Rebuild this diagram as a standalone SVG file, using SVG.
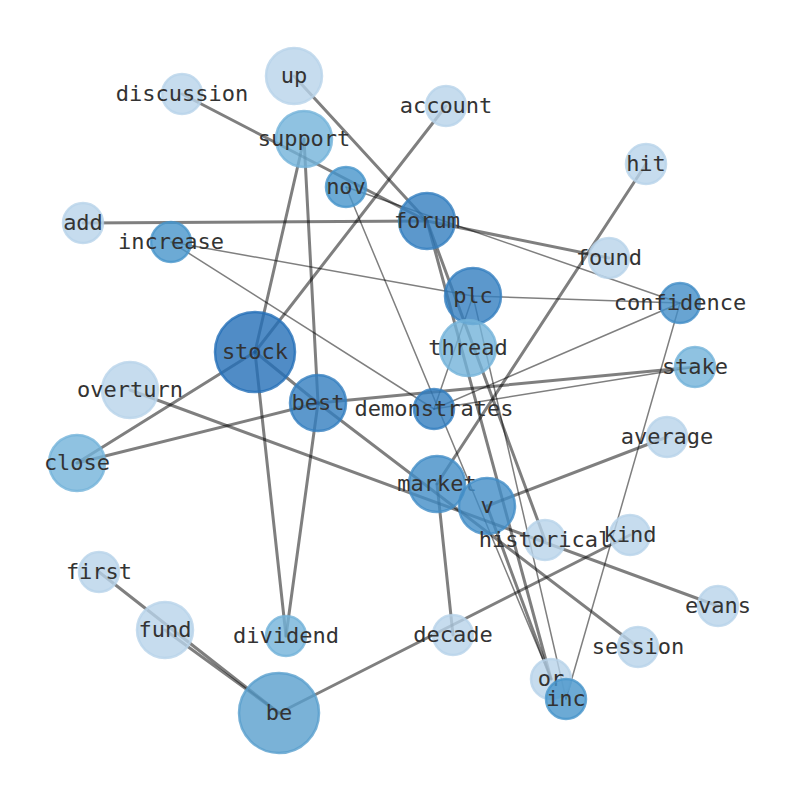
<svg xmlns="http://www.w3.org/2000/svg" width="794" height="790" viewBox="0 0 794 790">
<style>
.e{stroke:#000;stroke-opacity:0.5;fill:none;stroke-linecap:round}
.w{stroke-width:3}
.t{stroke-width:1.5}
.n circle{fill-opacity:0.8;stroke-opacity:0.8;stroke-width:2.5}
.l1 circle{fill:#b8d3ea;stroke:#b8d3ea}
.l2 circle{fill:#73b3d9;stroke:#73b3d9}
.l3 circle{fill:#599fcd;stroke:#599fcd}
.l4 circle{fill:#4795ca;stroke:#4795ca}
.l5 circle{fill:#428dc7;stroke:#428dc7}
.l6 circle{fill:#337ebf;stroke:#337ebf}
.l7 circle{fill:#246fb8;stroke:#246fb8}
text{font-family:"DejaVu Sans Mono","Liberation Mono",monospace;font-size:22px;fill:#333;text-anchor:middle}
</style>
<rect width="794" height="790" fill="#fff"/>
<g id="edges">
<line class="e w" x1="182" y1="94" x2="427" y2="221"/>
<line class="e w" x1="294" y1="76" x2="427" y2="221"/>
<line class="e w" x1="446" y1="106" x2="255" y2="352"/>
<line class="e w" x1="304" y1="139" x2="255" y2="352"/>
<line class="e w" x1="304" y1="139" x2="318" y2="403"/>
<line class="e w" x1="255" y1="352" x2="286" y2="636"/>
<line class="e w" x1="318" y1="403" x2="286" y2="636"/>
<line class="e w" x1="83" y1="223" x2="427" y2="221"/>
<line class="e t" x1="171" y1="242" x2="473" y2="296"/>
<line class="e t" x1="171" y1="242" x2="434" y2="409"/>
<line class="e w" x1="427" y1="221" x2="609" y2="258"/>
<line class="e t" x1="346" y1="187" x2="680" y2="303"/>
<line class="e t" x1="473" y1="296" x2="680" y2="303"/>
<line class="e t" x1="473" y1="296" x2="434" y2="409"/>
<line class="e t" x1="473" y1="296" x2="566" y2="699"/>
<line class="e t" x1="346" y1="187" x2="551" y2="679"/>
<line class="e w" x1="427" y1="221" x2="545" y2="540"/>
<line class="e w" x1="437" y1="484" x2="646" y2="164"/>
<line class="e w" x1="437" y1="484" x2="453" y2="635"/>
<line class="e w" x1="279" y1="713" x2="630" y2="535"/>
<line class="e w" x1="487" y1="506" x2="667" y2="437"/>
<line class="e t" x1="680" y1="303" x2="566" y2="699"/>
<line class="e t" x1="434" y1="409" x2="695" y2="367"/>
<line class="e t" x1="434" y1="409" x2="680" y2="303"/>
<line class="e w" x1="318" y1="403" x2="695" y2="367"/>
<line class="e w" x1="77" y1="463" x2="318" y2="403"/>
<line class="e w" x1="77" y1="463" x2="255" y2="352"/>
<line class="e w" x1="255" y1="352" x2="318" y2="403"/>
<line class="e w" x1="318" y1="403" x2="638" y2="647"/>
<line class="e w" x1="130" y1="390" x2="718" y2="606"/>
<line class="e w" x1="487" y1="506" x2="551" y2="679"/>
<line class="e w" x1="427" y1="221" x2="551" y2="679"/>
<line class="e w" x1="99" y1="572" x2="279" y2="713"/>
<line class="e w" x1="165" y1="630" x2="279" y2="713"/>
</g>
<g id="node-up" class="n l1"><circle cx="294" cy="76" r="28"/><text x="294" y="83">up</text></g>
<g id="node-discussion" class="n l1"><circle cx="182" cy="94" r="20"/><text x="182" y="101">discussion</text></g>
<g id="node-account" class="n l1"><circle cx="446" cy="106" r="20"/><text x="446" y="113">account</text></g>
<g id="node-support" class="n l2"><circle cx="304" cy="139" r="28"/><text x="304" y="146">support</text></g>
<g id="node-nov" class="n l4"><circle cx="346" cy="187" r="20"/><text x="346" y="194">nov</text></g>
<g id="node-hit" class="n l1"><circle cx="646" cy="164" r="20"/><text x="646" y="171">hit</text></g>
<g id="node-add" class="n l1"><circle cx="83" cy="223" r="20"/><text x="83" y="230">add</text></g>
<g id="node-increase" class="n l4"><circle cx="171" cy="242" r="20"/><text x="171" y="249">increase</text></g>
<g id="node-forum" class="n l6"><circle cx="427" cy="221" r="28"/><text x="427" y="228">forum</text></g>
<g id="node-found" class="n l1"><circle cx="609" cy="258" r="20"/><text x="609" y="265">found</text></g>
<g id="node-plc" class="n l6"><circle cx="473" cy="296" r="28"/><text x="473" y="303">plc</text></g>
<g id="node-confidence" class="n l5"><circle cx="680" cy="303" r="20"/><text x="680" y="310">confidence</text></g>
<g id="node-stock" class="n l7"><circle cx="255" cy="352" r="40"/><text x="255" y="359">stock</text></g>
<g id="node-thread" class="n l2"><circle cx="468" cy="348" r="28"/><text x="468" y="355">thread</text></g>
<g id="node-overturn" class="n l1"><circle cx="130" cy="390" r="28"/><text x="130" y="397">overturn</text></g>
<g id="node-stake" class="n l2"><circle cx="695" cy="367" r="20"/><text x="695" y="374">stake</text></g>
<g id="node-best" class="n l6"><circle cx="318" cy="403" r="28"/><text x="318" y="410">best</text></g>
<g id="node-demonstrates" class="n l6"><circle cx="434" cy="409" r="20"/><text x="434" y="416">demonstrates</text></g>
<g id="node-average" class="n l1"><circle cx="667" cy="437" r="20"/><text x="667" y="444">average</text></g>
<g id="node-close" class="n l2"><circle cx="77" cy="463" r="28"/><text x="77" y="470">close</text></g>
<g id="node-market" class="n l5"><circle cx="437" cy="484" r="28"/><text x="437" y="491">market</text></g>
<g id="node-v" class="n l5"><circle cx="487" cy="506" r="28"/><text x="487" y="513">v</text></g>
<g id="node-kind" class="n l1"><circle cx="630" cy="535" r="20"/><text x="630" y="542">kind</text></g>
<g id="node-historical" class="n l1"><circle cx="545" cy="540" r="20"/><text x="545" y="547">historical</text></g>
<g id="node-first" class="n l1"><circle cx="99" cy="572" r="20"/><text x="99" y="579">first</text></g>
<g id="node-fund" class="n l1"><circle cx="165" cy="630" r="28"/><text x="165" y="637">fund</text></g>
<g id="node-dividend" class="n l2"><circle cx="286" cy="636" r="20"/><text x="286" y="643">dividend</text></g>
<g id="node-decade" class="n l1"><circle cx="453" cy="635" r="20"/><text x="453" y="642">decade</text></g>
<g id="node-evans" class="n l1"><circle cx="718" cy="606" r="20"/><text x="718" y="613">evans</text></g>
<g id="node-session" class="n l1"><circle cx="638" cy="647" r="20"/><text x="638" y="654">session</text></g>
<g id="node-or" class="n l1"><circle cx="551" cy="679" r="20"/><text x="551" y="686">or</text></g>
<g id="node-inc" class="n l4"><circle cx="566" cy="699" r="20"/><text x="566" y="706">inc</text></g>
<g id="node-be" class="n l3"><circle cx="279" cy="713" r="40"/><text x="279" y="720">be</text></g>
</svg>
